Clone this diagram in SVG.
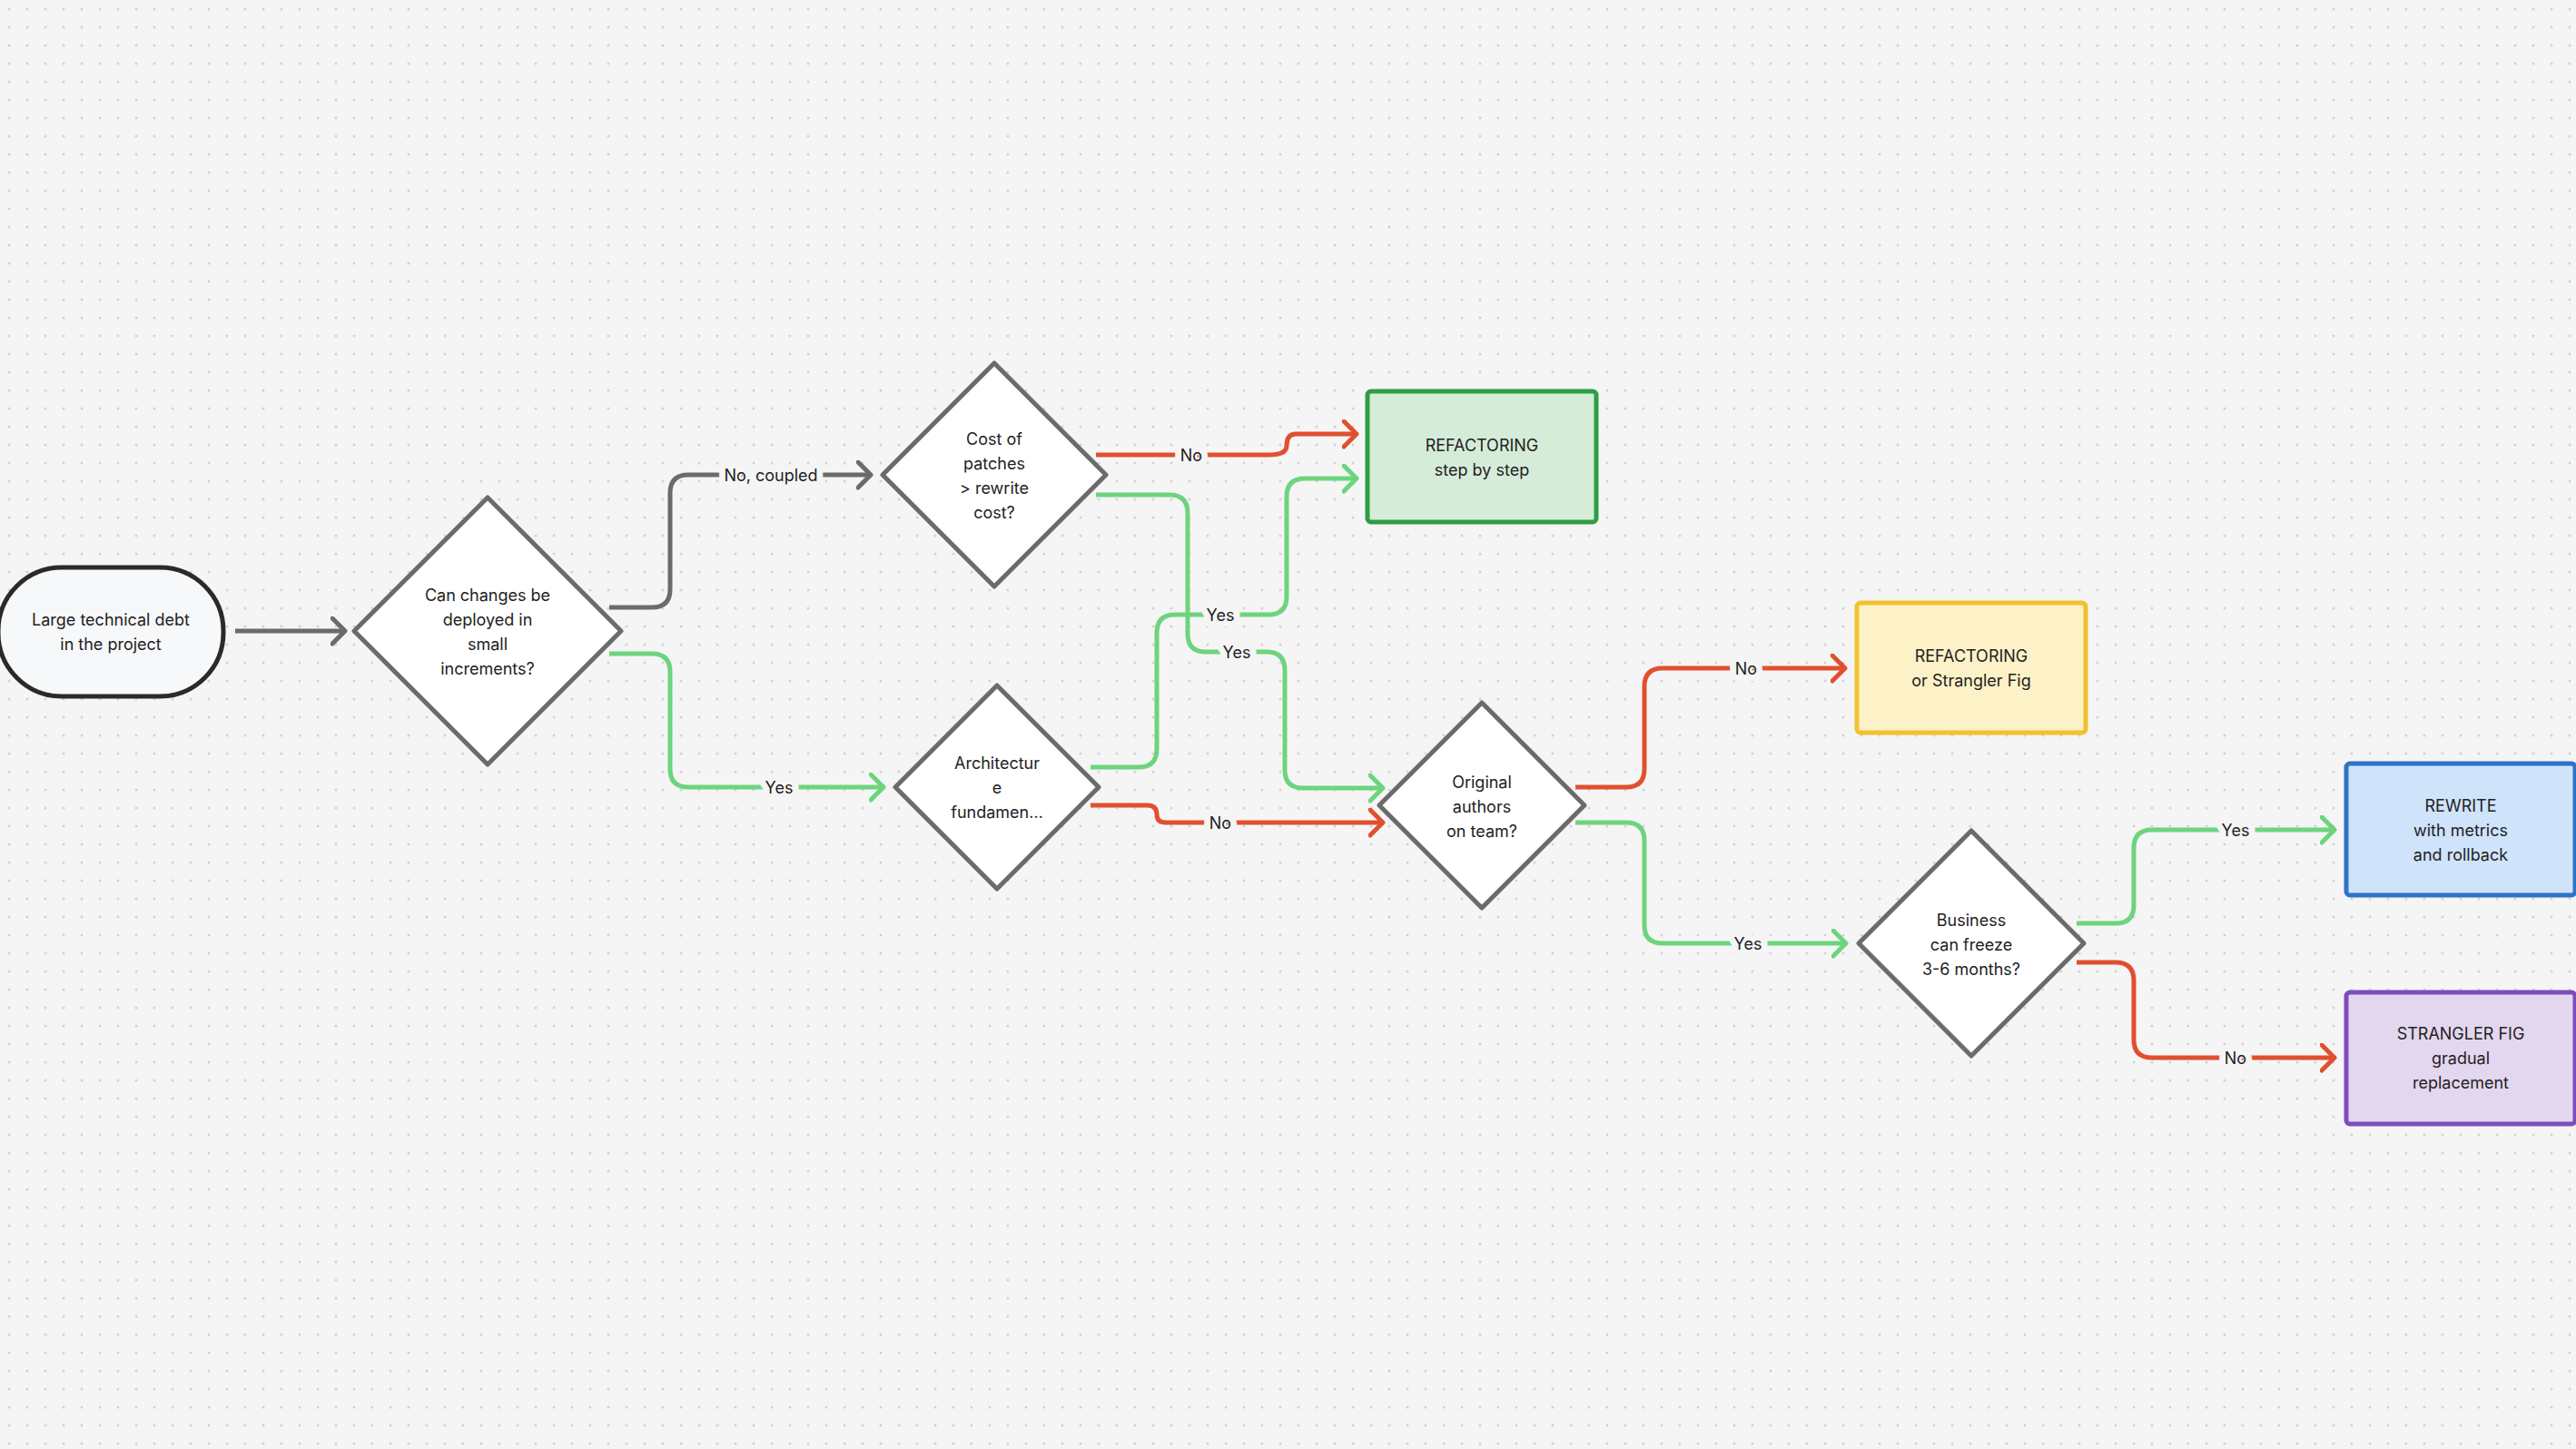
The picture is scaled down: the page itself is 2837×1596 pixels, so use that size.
<svg xmlns="http://www.w3.org/2000/svg" width="2837" height="1596" viewBox="0 0 2837 1596">
<defs>
<pattern id="dots" width="20" height="20" patternUnits="userSpaceOnUse"><circle cx="10" cy="10" r="1.5" fill="#d2d2d2"/></pattern>
<marker id="mg" markerUnits="userSpaceOnUse" markerWidth="40" markerHeight="40" refX="16" refY="16" orient="auto"><path d="M2 2 L16 16 L2 30" fill="none" stroke="#6b6b6b" stroke-width="5" stroke-linecap="round" stroke-linejoin="round"/></marker>
<marker id="mgr" markerUnits="userSpaceOnUse" markerWidth="40" markerHeight="40" refX="16" refY="16" orient="auto"><path d="M2 2 L16 16 L2 30" fill="none" stroke="#6dd47e" stroke-width="5" stroke-linecap="round" stroke-linejoin="round"/></marker>
<marker id="mr" markerUnits="userSpaceOnUse" markerWidth="40" markerHeight="40" refX="16" refY="16" orient="auto"><path d="M2 2 L16 16 L2 30" fill="none" stroke="#e0502f" stroke-width="5" stroke-linecap="round" stroke-linejoin="round"/></marker>
</defs>
<style>
text{font-family:Inter,"Liberation Sans",sans-serif;font-size:18px;fill:#222;text-anchor:middle;dominant-baseline:central}
.lbl{paint-order:stroke;stroke:#f5f5f5;stroke-width:14px;stroke-linejoin:round}
.c{fill:none;stroke-width:5;stroke-linejoin:round}
.g{stroke:#6b6b6b;marker-end:url(#mg)}
.gr{stroke:#6dd47e;marker-end:url(#mgr)}
.r{stroke:#e0502f;marker-end:url(#mr)}
.dia{fill:#fff;stroke:#6b6b6b;stroke-width:5;stroke-linejoin:round}
</style>
<rect width="2837" height="1596" fill="#f5f5f5"/>
<rect width="2837" height="1596" fill="url(#dots)"/>
<g id="connectors">
<path class="c g" d="M259 695 H380"/>
<path class="c g" d="M671 669 H718 Q738 669 738 649 V543 Q738 523 758 523 H959"/>
<path class="c gr" d="M671 720 H718 Q738 720 738 740 V847 Q738 867 758 867 H973"/>
<path class="c r" d="M1207 501 H1397 Q1417 501 1417 491 Q1417 478 1427 478 H1494"/>
<path class="c gr" d="M1207 545 H1288 Q1308 545 1308 565 V698 Q1308 718 1328 718 H1395 Q1415 718 1415 738 V848 Q1415 868 1435 868 H1523"/>
<path class="c gr" d="M1201 845 H1254 Q1274 845 1274 825 V697 Q1274 677 1294 677 H1397 Q1417 677 1417 657 V547 Q1417 527 1437 527 H1494"/>
<path class="c r" d="M1201 887 H1264 Q1274 887 1274 897 Q1274 906 1284 906 H1523"/>
<path class="c r" d="M1735 867 H1791 Q1811 867 1811 847 V756 Q1811 736 1831 736 H2032"/>
<path class="c gr" d="M1735 906 H1791 Q1811 906 1811 926 V1019 Q1811 1039 1831 1039 H2033"/>
<path class="c gr" d="M2287 1017 H2330 Q2350 1017 2350 997 V934 Q2350 914 2370 914 H2571"/>
<path class="c r" d="M2287 1060 H2330 Q2350 1060 2350 1080 V1145 Q2350 1165 2370 1165 H2571"/>
<text class="lbl" x="849" y="523">No, coupled</text>
<text class="lbl" x="858" y="867">Yes</text>
<text class="lbl" x="1312" y="501">No</text>
<text class="lbl" x="1362" y="718">Yes</text>
<text class="lbl" x="1344" y="677">Yes</text>
<text class="lbl" x="1344" y="906">No</text>
<text class="lbl" x="1923" y="736">No</text>
<text class="lbl" x="1925" y="1039">Yes</text>
<text class="lbl" x="2462" y="914">Yes</text>
<text class="lbl" x="2462" y="1165">No</text>
</g>
<g id="start">
<rect x="-2" y="625" width="248" height="142" rx="70" fill="#f7f8fa" stroke="#2a2a2a" stroke-width="5"/>
<text x="122" y="682">Large technical debt</text><text x="122" y="709">in the project</text>
</g>
<g id="d1">
<polygon class="dia" points="537,548 684,695 537,842 390,695"/>
<text x="537" y="655">Can changes be</text><text x="537" y="682">deployed in</text><text x="537" y="709">small</text><text x="537" y="736">increments?</text>
</g>
<g id="d2">
<polygon class="dia" points="1095,400 1218,523 1095,646 972,523"/>
<text x="1095" y="483">Cost of</text><text x="1095" y="510">patches</text><text x="1095" y="537">&gt; rewrite</text><text x="1095" y="564">cost?</text>
</g>
<g id="d3">
<polygon class="dia" points="1098,755 1210,867 1098,979 986,867"/>
<text x="1098" y="840">Architectur</text><text x="1098" y="867">e</text><text x="1098" y="894">fundamen…</text>
</g>
<g id="d4">
<polygon class="dia" points="1632,774 1745,887 1632,1000 1519,887"/>
<text x="1632" y="861">Original</text><text x="1632" y="888">authors</text><text x="1632" y="915">on team?</text>
</g>
<g id="d5">
<polygon class="dia" points="2171,915 2295,1039 2171,1163 2047,1039"/>
<text x="2171" y="1013">Business</text><text x="2171" y="1040">can freeze</text><text x="2171" y="1067">3-6 months?</text>
</g>
<g id="r1">
<rect x="1506" y="431" width="252" height="144" rx="4" fill="#d5ecd9" stroke="#2e9e44" stroke-width="5"/>
<text x="1632" y="490">REFACTORING</text><text x="1632" y="517">step by step</text>
</g>
<g id="r2">
<rect x="2045" y="664" width="252" height="143" rx="4" fill="#fdf1c7" stroke="#f2c12e" stroke-width="5"/>
<text x="2171" y="722">REFACTORING</text><text x="2171" y="749">or Strangler Fig</text>
</g>
<g id="r3">
<rect x="2584" y="841" width="252" height="145" rx="4" fill="#cfe3fb" stroke="#2f73c8" stroke-width="5"/>
<text x="2710" y="887">REWRITE</text><text x="2710" y="914">with metrics</text><text x="2710" y="941">and rollback</text>
</g>
<g id="r4">
<rect x="2584" y="1093" width="252" height="145" rx="4" fill="#e3d6ef" stroke="#7d4dbd" stroke-width="5"/>
<text x="2710" y="1138">STRANGLER FIG</text><text x="2710" y="1165">gradual</text><text x="2710" y="1192">replacement</text>
</g>
</svg>
